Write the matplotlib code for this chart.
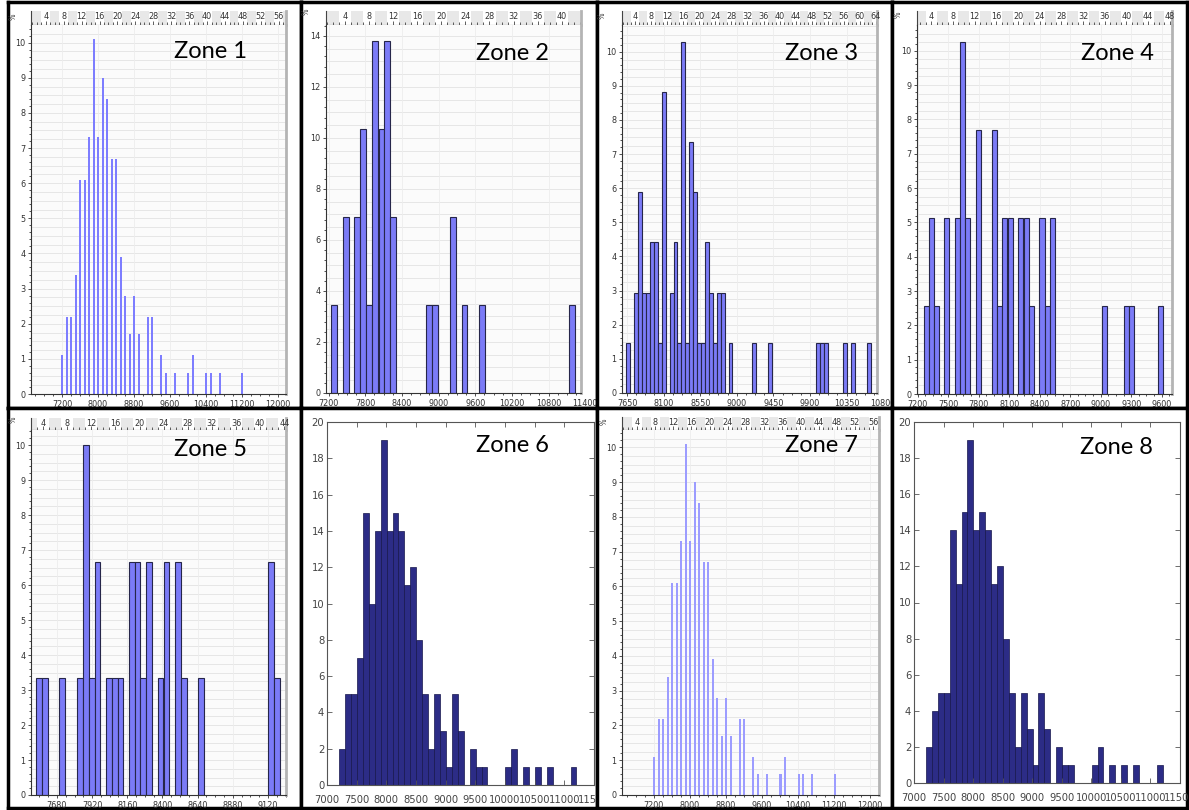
import matplotlib
matplotlib.use('Agg')
import matplotlib.pyplot as plt
from matplotlib.ticker import MultipleLocator, FixedLocator
import numpy as np

plt.rcParams['font.family'] = ['DejaVu Sans']
plt.rcParams['font.stretch'] = 'condensed'

W, H = 1189, 810
fig = plt.figure(figsize=(W / 100, H / 100), dpi=100)

# ---------------- data (percent histograms) ----------------
z1_x = [7210, 7310, 7410, 7510, 7610, 7710, 7810, 7910, 8010, 8110, 8210, 8310, 8410, 8510,
        8610, 8710, 8810, 8910, 9110, 9210, 9410, 9510, 9710, 10010, 10110, 10410, 10510,
        10710, 11210]
z1_pct = [1.1, 2.2, 2.2, 3.4, 6.1, 6.1, 7.3, 10.1, 7.3, 9.0, 8.4, 6.7, 6.7, 3.9,
          2.8, 1.7, 2.8, 1.7, 2.2, 2.2, 1.1, 0.6, 0.6, 0.6, 1.1, 0.6, 0.6, 0.6, 0.6]

z2_x = [7285, 7480, 7670, 7765, 7865, 7965, 8065, 8160, 8260, 8850, 8945, 9235, 9425, 9715, 11180]
z2_pct = [3.45, 6.9, 6.9, 10.34, 3.45, 13.79, 10.34, 13.79, 6.9, 3.45, 3.45, 6.9, 3.45, 3.45, 3.45]

z3_x = [7662, 7764, 7811, 7857, 7906, 7955, 8004, 8053, 8102, 8199, 8246, 8293, 8342, 8390,
        8439, 8486, 8533, 8582, 8630, 8679, 8728, 8777, 8826, 8923, 9216, 9412, 9997, 10046,
        10095, 10335, 10433, 10628]
z3_pct = [1.47, 2.94, 5.88, 2.94, 2.94, 4.41, 4.41, 1.47, 8.82, 2.94, 4.41, 1.47, 10.29, 1.47,
          7.35, 5.88, 1.47, 1.47, 4.41, 2.94, 1.47, 2.94, 2.94, 1.47, 1.47, 1.47, 1.47, 1.47,
          1.47, 1.47, 1.47, 1.47]

z4_x = [7283, 7332, 7381, 7485, 7593, 7642, 7692, 7800, 7952, 8004, 8058, 8110, 8214, 8266,
        8318, 8423, 8475, 8527, 9042, 9253, 9303, 9590]
z4_pct = [2.56, 5.13, 2.56, 5.13, 5.13, 10.26, 5.13, 7.69, 7.69, 2.56, 5.13, 5.13, 5.13, 5.13,
          2.56, 5.13, 2.56, 5.13, 2.56, 2.56, 2.56, 2.56]

z5_x = [7557, 7598, 7716, 7835, 7876, 7917, 7956, 8033, 8074, 8114, 8192, 8230, 8269, 8310,
        8387, 8428, 8506, 8546, 8665, 9142, 9181]
z5_pct = [3.33, 3.33, 3.33, 3.33, 10.0, 3.33, 6.67, 3.33, 3.33, 3.33, 6.67, 6.67, 3.33, 6.67,
          3.33, 6.67, 6.67, 3.33, 3.33, 6.67, 3.33]

z7_x = list(z1_x)
z7_pct = list(z1_pct)

# count histograms (zones 6 and 8)
hist_centers = [7255, 7355, 7455, 7555, 7655, 7755, 7855, 7955, 8055, 8155, 8255, 8355, 8455,
                8555, 8655, 8755, 8855, 8955, 9055, 9155, 9255, 9355, 9455, 9555, 9655, 9755,
                9855, 9955, 10055, 10155, 10255, 10355, 10455, 10555, 10655, 10755, 10855,
                10955, 11055, 11155]
z6_counts = [2, 5, 5, 7, 15, 10, 14, 19, 14, 15, 14, 11, 12, 8, 5, 2, 5, 3, 1, 5, 3, 0, 2, 1, 1,
             0, 0, 0, 1, 2, 0, 1, 0, 1, 0, 1, 0, 0, 0, 1]
z8_counts = [2, 4, 5, 5, 14, 11, 15, 19, 14, 15, 14, 11, 12, 8, 5, 2, 5, 3, 1, 5, 3, 0, 2, 1, 1,
             0, 0, 0, 1, 2, 0, 1, 0, 1, 0, 1, 0, 0, 0, 1]

zone_titles = ['Zone 1', 'Zone 2', 'Zone 3', 'Zone 4', 'Zone 5', 'Zone 6', 'Zone 7', 'Zone 8']


def box(x0, y0, x1, y1):
    return [x0 / W, 1 - y1 / H, (x1 - x0) / W, (y1 - y0) / H]


def cell_bg(cell):
    bg = fig.add_axes(box(*cell))
    bg.set_facecolor('white')
    bg.set_xticks([])
    bg.set_yticks([])
    for s in bg.spines.values():
        s.set_linewidth(2.5)
        s.set_color('black')
    return bg


def cc_panel(cell, plot, band_top, xlim, xstart, xstep, xlast, ylim, ymajor, yminor, ygrid,
             band_lim, band_max, centers, heights, width, color, ec, lw, pct_pos):
    cell_bg(cell)
    l, t, r, b = plot
    # top band (secondary scale)
    bd = fig.add_axes(box(l, band_top, r, t))
    bd.set_xlim(band_lim)
    bd.set_ylim(0, 1)
    bd.set_facecolor('white')
    for k in range(0, band_max + 8, 4):
        bd.axvspan(k + 1, k + 3, color='#e8e8e8', lw=0)
    bd.xaxis.set_major_locator(MultipleLocator(4))
    bd.xaxis.set_minor_locator(MultipleLocator(1))
    bd.tick_params(axis='x', which='both', direction='in', bottom=True, top=False,
                   labelbottom=False, color='#444', width=0.6)
    bd.tick_params(axis='x', which='major', length=3)
    bd.tick_params(axis='x', which='minor', length=2)
    bd.set_yticks([])
    for v in range(4, band_max + 1, 4):
        bd.text(v, 0.58, str(v), ha='center', va='center', fontsize=6.5, color='#333')
    bd.spines['top'].set_visible(False)
    bd.spines['left'].set_color('#444')
    bd.spines['left'].set_linewidth(0.8)
    bd.spines['bottom'].set_color('#444')
    bd.spines['bottom'].set_linewidth(0.8)
    bd.spines['right'].set_color('#b4b4b4')
    bd.spines['right'].set_linewidth(2)

    ax = fig.add_axes(box(l, t, r, b))
    ax.set_facecolor('#fbfbfb')
    ax.set_xlim(xlim)
    ax.set_ylim(ylim)
    xmaj = [v for v in np.arange(xstart, xlast + 1, xstep) if v <= xlim[1]]
    ax.xaxis.set_major_locator(FixedLocator(xmaj))
    ax.xaxis.set_minor_locator(MultipleLocator(xstep / 4))
    ax.yaxis.set_major_locator(MultipleLocator(ymajor))
    ax.yaxis.set_minor_locator(MultipleLocator(yminor))
    for yv in np.arange(ygrid, ylim[1], ygrid):
        ax.axhline(yv, color='#e2e2e2', lw=0.6, zorder=0)
    for xv in xmaj:
        ax.axvline(xv, color='#ededed', lw=0.6, zorder=0)
    ax.bar(centers, heights, width=width, color=color, edgecolor=ec, linewidth=lw, zorder=2)
    ax.tick_params(axis='both', which='both', direction='out', color='#333', width=0.6,
                   labelsize=6.5, labelcolor='#333', pad=1.5)
    ax.tick_params(axis='both', which='major', length=2.5)
    ax.tick_params(axis='both', which='minor', length=1.5)
    ax.spines['top'].set_visible(False)
    ax.spines['right'].set_color('#b4b4b4')
    ax.spines['right'].set_linewidth(2)
    ax.spines['left'].set_color('#333')
    ax.spines['left'].set_linewidth(0.8)
    ax.spines['bottom'].set_color('#333')
    ax.spines['bottom'].set_linewidth(0.8)
    # a last tick label that sits just past the plotted range
    if xlast > xlim[1]:
        ax.annotate(f'{int(xlast)}', xy=(xlast, 0), xycoords=('data', 'axes fraction'),
                    xytext=(0, -4), textcoords='offset points', ha='center', va='top',
                    fontsize=6.5, color='#333', annotation_clip=False)
    fig.text(pct_pos[0] / W, 1 - pct_pos[1] / H, '%', rotation=90, fontsize=5.5,
             ha='center', va='center', color='#333')
    return ax


def ml_panel(cell, plot, centers, counts):
    cell_bg(cell)
    l, t, r, b = plot
    ax = fig.add_axes(box(l, t, r, b))
    ax.set_facecolor('white')
    ax.set_xlim(7000, 11500)
    ax.set_ylim(0, 20)
    ax.xaxis.set_major_locator(MultipleLocator(500))
    ax.yaxis.set_major_locator(MultipleLocator(2))
    ax.bar(centers, counts, width=100, color='#2c2c86', edgecolor='#16164c', linewidth=0.5)
    ax.tick_params(axis='both', direction='in', top=True, right=True, length=3.5, width=0.6,
                   color='#555', labelsize=8, labelcolor='#444')
    ax.tick_params(axis='x', pad=7)
    ax.tick_params(axis='y', pad=2)
    for s in ax.spines.values():
        s.set_color('#555')
        s.set_linewidth(0.8)
    return ax


c = [8, 301, 597, 892, 1187]
rws = [2, 408, 808]
blue = '#7b7bf7'
edge = '#26264a'

# Zone 1
cc_panel((c[0], rws[0], c[1], rws[1]), (31, 25, 286, 394), 11, (6510, 12185), 7200, 800, 12000,
         (0, 10.5), 1, 0.2, 0.25, (0.72, 57.6), 56, z1_x, z1_pct, 45, '#7d7dff', 'none', 0,
         (13, 17))
# Zone 2
cc_panel((c[1], rws[0], c[2], rws[1]), (326, 25, 581, 393), 11, (7157, 11331), 7200, 600, 11400,
         (0, 14.43), 2, 0.4, 0.5, (0.84, 43.2), 40, z2_x, z2_pct, 96, blue, edge, 0.8,
         (306, 12))
# Zone 3
cc_panel((c[2], rws[0], c[3], rws[1]), (622, 25, 877, 393), 11, (7588, 10725), 7650, 450, 10800,
         (0, 10.78), 1, 0.2, 0.25, (0.7, 64.3), 64, z3_x, z3_pct, 48, blue, edge, 0.8,
         (602, 16))
# Zone 4
cc_panel((c[3], rws[0], c[4], rws[1]), (917, 25, 1172, 394), 11, (7193, 9702), 7200, 300, 9600,
         (0, 10.75), 1, 0.2, 0.25, (1.36, 48.4), 48, z4_x, z4_pct, 50, blue, edge, 0.8,
         (898, 15))
# Zone 5
cc_panel((c[0], rws[1], c[1], rws[2]), (31, 430, 286, 795), 418, (7503, 9243), 7680, 240, 9120,
         (0, 10.43), 1, 0.2, 0.25, (2.0, 44.3), 44, z5_x, z5_pct, 39, blue, edge, 0.8,
         (13, 420))
# Zone 6
ml_panel((c[1], rws[1], c[2], rws[2]), (327, 422, 594, 785), hist_centers, z6_counts)
# Zone 7
cc_panel((c[2], rws[1], c[3], rws[2]), (622, 430, 879, 795), 417, (6498, 12193), 7200, 800, 12000,
         (0, 10.5), 1, 0.2, 0.25, (0.7, 57.3), 56, z7_x, z7_pct, 45, '#9c9cff', 'none', 0,
         (604, 422))
# Zone 8
ml_panel((c[3], rws[1], c[4], rws[2]), (914, 422, 1180, 783), hist_centers, z8_counts)

title_pos = [(210, 51), (512, 53), (822, 53), (1117, 53), (210, 450), (512, 445), (821, 445),
             (1116, 448)]
for txt, (tx, ty) in zip(zone_titles, title_pos):
    fig.text(tx / W, 1 - ty / H, txt, family=['Lato', 'DejaVu Sans'], fontstretch='normal',
             fontsize=17, ha='center', va='center', color='black')

fig.savefig('out.png', dpi=100)
